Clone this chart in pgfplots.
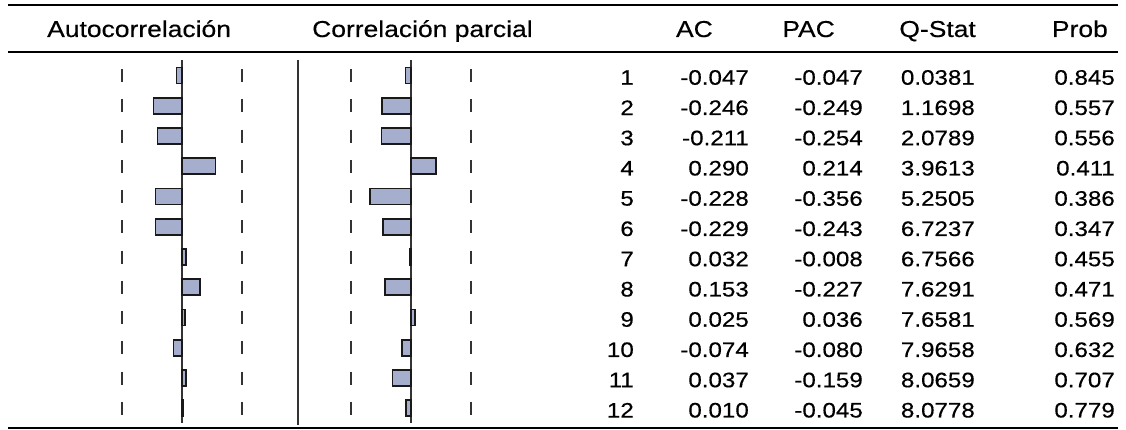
\documentclass[border=0pt]{standalone}
\usepackage{pgfplots}
\pgfplotsset{compat=1.18}
\usepackage{pgfplotstable}
\usepackage{fontspec}
\setmainfont[FakeStretch=1.15, FakeBold=0.4]{Liberation Sans}
\definecolor{barfill}{RGB}{166,174,206}
\definecolor{ink}{RGB}{25,25,25}

\pgfplotstableread{
lag ac pac lo hi
1 -0.047 -0.047 -0.517 0.517
2 -0.246 -0.249 -0.517 0.517
3 -0.211 -0.254 -0.517 0.517
4 0.290 0.214 -0.517 0.517
5 -0.228 -0.356 -0.517 0.517
6 -0.229 -0.243 -0.517 0.517
7 0.032 -0.008 -0.517 0.517
8 0.153 -0.227 -0.517 0.517
9 0.025 0.036 -0.517 0.517
10 -0.074 -0.080 -0.517 0.517
11 0.037 -0.159 -0.517 0.517
12 0.010 -0.045 -0.517 0.517
}\corr

\pgfplotsset{
  panel/.style={
    scale only axis, anchor=south west,
    width=232pt, height=363pt,
    xmin=-1, xmax=1, ymin=0.5, ymax=12.5,
    y dir=reverse, hide axis, clip=false,
  },
  bars/.style={xbar, bar shift=0pt, bar width=16pt, fill=barfill, draw=ink, line width=1.7pt},
  dashes/.style={only marks, mark=|, mark size=6.5pt, mark options={line width=2.4pt, draw=black!80}},
}

\begin{document}
\begin{tikzpicture}[x=1pt,y=1pt]
% rules
\draw[line width=2.2pt, black] (8,-5) -- (1118,-5);
\draw[line width=2pt, black] (8,-52) -- (60,-52);
\draw[line width=1.1pt, black] (60,-52) -- (519,-52);
\draw[line width=2pt, black] (519,-52) -- (1118,-52);
\draw[line width=2.2pt, black] (8,-428) -- (1118,-428);
% separator
\draw[line width=1.9pt, black!80] (298,-60) -- (298,-425);

% AC panel
\begin{axis}[panel, at={(66pt,-423.4pt)}]
\addplot[dashes] table[x=lo, y=lag] {\corr};
\addplot[dashes] table[x=hi, y=lag] {\corr};
\draw[line width=1.9pt, black!80] (axis cs:0,0.5) -- (axis cs:0,12.5);
\addplot[bars] table[x=ac, y=lag] {\corr};
\end{axis}

% PAC panel
\begin{axis}[panel, at={(295pt,-423.4pt)}]
\addplot[dashes] table[x=lo, y=lag] {\corr};
\addplot[dashes] table[x=hi, y=lag] {\corr};
\draw[line width=1.9pt, black!80] (axis cs:0,0.5) -- (axis cs:0,12.5);
\addplot[bars] table[x=pac, y=lag] {\corr};
\end{axis}

% headers
\begin{scope}[every node/.style={inner sep=0pt, font=\fontsize{23pt}{27pt}\selectfont}]
\node[anchor=base west] at (47,-37) {Autocorrelación};
\node[anchor=base west] at (312,-37) {Correlación parcial};
\node[anchor=base east] at (713,-37) {AC};
\node[anchor=base east] at (835,-37) {PAC};
\node[anchor=base east] at (976,-37) {Q-Stat};
\node[anchor=base east] at (1108,-37) {Prob};
\end{scope}

% table values
\begin{scope}[every node/.style={inner sep=0pt, anchor=east, font=\fontsize{21pt}{25pt}\selectfont}]
\foreach \k/\ac/\pac/\q/\p in {
1/-0.047/-0.047/0.0381/0.845,
2/-0.246/-0.249/1.1698/0.557,
3/-0.211/-0.254/2.0789/0.556,
4/0.290/0.214/3.9613/0.411,
5/-0.228/-0.356/5.2505/0.386,
6/-0.229/-0.243/6.7237/0.347,
7/0.032/-0.008/6.7566/0.455,
8/0.153/-0.227/7.6291/0.471,
9/0.025/0.036/7.6581/0.569,
10/-0.074/-0.080/7.9658/0.632,
11/0.037/-0.159/8.0659/0.707,
12/0.010/-0.045/8.0778/0.779}{
  \pgfmathsetmacro{\yy}{-(77.5+(\k-1)*30.25)}
  \node at (634,\yy) {\k};
  \node at (749,\yy) {\ac};
  \node at (863,\yy) {\pac};
  \node at (975,\yy) {\q};
  \node at (1115,\yy) {\p};
}
\end{scope}

\pgfresetboundingbox
\useasboundingbox (0,0) rectangle (1126,-430);
\end{tikzpicture}
\end{document}
